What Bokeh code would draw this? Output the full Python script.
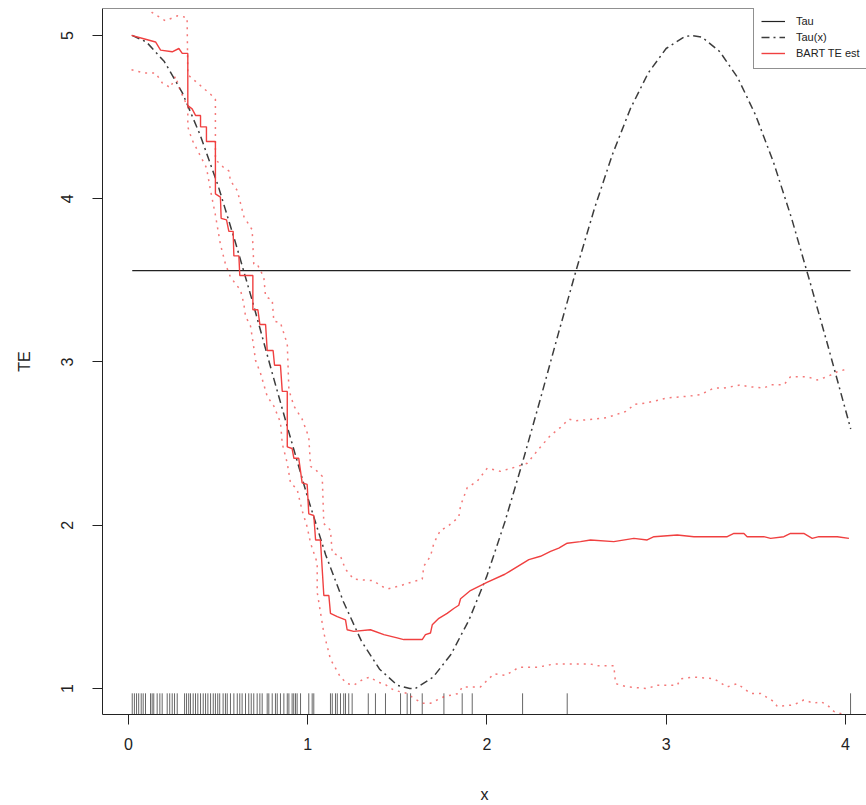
from bokeh.plotting import figure
from bokeh.models import Range1d, Span, Legend, LegendItem, FixedTicker
from bokeh.embed import file_html
from bokeh.resources import INLINE

# ---------------- data ----------------
tau_value = 3.56

taux_x = [0.02, 0.1, 0.2, 0.3, 0.4, 0.5, 0.6, 0.7, 0.8, 0.9, 1.0, 1.1, 1.2, 1.3, 1.4, 1.5,
          1.57, 1.6, 1.7, 1.8, 1.9, 2.0, 2.1, 2.2, 2.3, 2.4, 2.5, 2.6, 2.7, 2.8, 2.9, 3.0,
          3.1, 3.14, 3.2, 3.3, 3.4, 3.5, 3.6, 3.7, 3.8, 3.9, 4.0, 4.03]
taux_y = [5.00, 4.96, 4.84, 4.65, 4.39, 4.08, 3.72, 3.34, 2.94, 2.55, 2.17, 1.82, 1.53, 1.29, 1.12, 1.02,
          1.00, 1.00, 1.07, 1.21, 1.42, 1.69, 2.02, 2.39, 2.78, 3.18, 3.57, 3.94, 4.27, 4.55, 4.77, 4.92,
          4.99, 5.00, 4.99, 4.90, 4.74, 4.51, 4.22, 3.88, 3.50, 3.11, 2.71, 2.59]

bart_x = [0.017, 0.085, 0.151, 0.179, 0.244, 0.281, 0.300, 0.331, 0.331, 0.355, 0.374, 0.402, 0.402,
          0.435, 0.435, 0.485, 0.485, 0.513, 0.517, 0.547, 0.560, 0.584, 0.588, 0.616, 0.621, 0.694,
          0.694, 0.722, 0.733, 0.765, 0.774, 0.807, 0.815, 0.848, 0.858, 0.886, 0.886, 0.913, 0.923,
          0.950, 0.969, 0.997, 1.006, 1.034, 1.044, 1.071, 1.090, 1.118, 1.127, 1.165, 1.211, 1.220,
          1.257, 1.350, 1.425, 1.499, 1.536, 1.639, 1.657, 1.685, 1.695, 1.732, 1.778, 1.815, 1.843,
          1.853, 1.908, 2.000, 2.100, 2.234, 2.299, 2.355, 2.401, 2.448, 2.522, 2.578, 2.708, 2.820,
          2.894, 2.932, 3.062, 3.155, 3.341, 3.378, 3.434, 3.452, 3.545, 3.583, 3.657, 3.694, 3.768,
          3.815, 3.852, 3.955, 4.020]
bart_y = [5.00, 4.98, 4.96, 4.91, 4.90, 4.92, 4.89, 4.89, 4.57, 4.55, 4.51, 4.51, 4.44,
          4.44, 4.35, 4.35, 4.03, 4.01, 3.88, 3.87, 3.80, 3.80, 3.65, 3.65, 3.53, 3.53,
          3.32, 3.32, 3.23, 3.23, 3.07, 3.07, 2.98, 2.98, 2.82, 2.82, 2.48, 2.47, 2.41,
          2.41, 2.26, 2.25, 2.07, 2.06, 1.91, 1.91, 1.57, 1.57, 1.46, 1.44, 1.42, 1.36,
          1.35, 1.36, 1.33, 1.31, 1.30, 1.30, 1.33, 1.34, 1.39, 1.43, 1.46, 1.49, 1.51,
          1.55, 1.60, 1.65, 1.70, 1.79, 1.81, 1.84, 1.86, 1.89, 1.90, 1.91, 1.90, 1.92,
          1.91, 1.93, 1.94, 1.93, 1.93, 1.95, 1.95, 1.93, 1.93, 1.92, 1.93, 1.95, 1.95,
          1.92, 1.93, 1.93, 1.92]

upper_x = [0.017, 0.120, 0.132, 0.206, 0.272, 0.327, 0.331, 0.383, 0.458, 0.485, 0.485, 0.532, 0.560,
           0.569, 0.607, 0.644, 0.690, 0.699, 0.718, 0.755, 0.765, 0.802, 0.811, 0.848, 0.886, 0.895,
           0.923, 0.969, 1.006, 1.016, 1.044, 1.081, 1.090, 1.127, 1.137, 1.183, 1.211, 1.257, 1.369,
           1.406, 1.444, 1.518, 1.574, 1.639, 1.648, 1.685, 1.704, 1.741, 1.778, 1.843, 1.853, 1.890,
           1.946, 2.002, 2.076, 2.169, 2.225, 2.299, 2.355, 2.411, 2.457, 2.494, 2.597, 2.671, 2.727,
           2.783, 2.820, 2.894, 3.006, 3.118, 3.192, 3.266, 3.322, 3.415, 3.452, 3.545, 3.583, 3.657,
           3.694, 3.787, 3.843, 3.899, 3.955, 4.020]
upper_y = [5.22, 5.20, 5.14, 5.09, 5.12, 5.11, 4.76, 4.71, 4.64, 4.61, 4.24, 4.19, 4.17,
           4.11, 4.05, 3.89, 3.81, 3.60, 3.60, 3.52, 3.40, 3.38, 3.25, 3.24, 3.11, 2.83,
           2.73, 2.65, 2.54, 2.36, 2.34, 2.30, 2.01, 1.97, 1.83, 1.81, 1.73, 1.67, 1.66,
           1.63, 1.61, 1.63, 1.65, 1.67, 1.75, 1.81, 1.89, 1.97, 1.99, 2.05, 2.12, 2.23,
           2.27, 2.35, 2.33, 2.36, 2.38, 2.48, 2.55, 2.60, 2.65, 2.64, 2.65, 2.66, 2.68,
           2.70, 2.74, 2.75, 2.78, 2.79, 2.80, 2.84, 2.84, 2.86, 2.85, 2.84, 2.86, 2.86,
           2.91, 2.91, 2.89, 2.91, 2.94, 2.96]

lower_x = [0.017, 0.085, 0.151, 0.188, 0.234, 0.262, 0.290, 0.331, 0.331, 0.355, 0.402, 0.435, 0.458,
           0.485, 0.513, 0.541, 0.569, 0.625, 0.643, 0.653, 0.681, 0.699, 0.709, 0.737, 0.774, 0.811,
           0.848, 0.858, 0.886, 0.904, 0.941, 0.969, 0.997, 1.016, 1.053, 1.053, 1.090, 1.127, 1.183,
           1.220, 1.257, 1.313, 1.350, 1.388, 1.425, 1.481, 1.555, 1.592, 1.639, 1.685, 1.760, 1.843,
           1.862, 1.964, 2.039, 2.104, 2.178, 2.281, 2.373, 2.578, 2.615, 2.708, 2.718, 2.783, 2.894,
           2.950, 3.062, 3.080, 3.155, 3.266, 3.341, 3.397, 3.471, 3.527, 3.601, 3.620, 3.713, 3.768,
           3.824, 3.862, 3.899, 3.936, 3.992, 4.020]
lower_y = [4.79, 4.77, 4.77, 4.71, 4.68, 4.75, 4.66, 4.56, 4.44, 4.36, 4.26, 4.19, 4.05,
           3.90, 3.72, 3.60, 3.52, 3.44, 3.36, 3.28, 3.22, 3.09, 3.01, 2.93, 2.79, 2.73,
           2.63, 2.50, 2.38, 2.26, 2.22, 2.09, 1.99, 1.89, 1.77, 1.59, 1.34, 1.18, 1.07,
           1.03, 1.02, 1.06, 1.07, 1.04, 1.03, 0.99, 0.97, 0.94, 0.91, 0.91, 0.95, 0.97,
           1.01, 1.01, 1.09, 1.08, 1.13, 1.13, 1.15, 1.15, 1.14, 1.14, 1.03, 1.01, 1.00,
           1.02, 1.02, 1.06, 1.07, 1.06, 1.01, 1.03, 0.97, 0.97, 0.92, 0.89, 0.90, 0.93,
           0.91, 0.92, 0.90, 0.86, 0.84, 0.82]

rug_x = [0.021, 0.033, 0.045, 0.057, 0.071, 0.082, 0.095, 0.123, 0.132, 0.141, 0.160, 0.175, 0.188,
         0.216, 0.230, 0.244, 0.257, 0.272, 0.313, 0.324, 0.336, 0.346, 0.361, 0.374, 0.387, 0.402,
         0.417, 0.430, 0.443, 0.458, 0.473, 0.485, 0.498, 0.509, 0.528, 0.541, 0.551, 0.569, 0.588,
         0.607, 0.621, 0.634, 0.653, 0.671, 0.685, 0.699, 0.718, 0.733, 0.746, 0.774, 0.783, 0.802,
         0.820, 0.830, 0.848, 0.867, 0.886, 0.895, 0.913, 0.922, 0.932, 0.941, 0.960, 1.006, 1.025,
         1.034, 1.127, 1.137, 1.155, 1.165, 1.183, 1.201, 1.211, 1.229, 1.248, 1.338, 1.378, 1.434,
         1.518, 1.555, 1.574, 1.639, 1.760, 1.862, 1.918, 2.199, 2.448, 4.029]

x_ticks = [0, 1, 2, 3, 4]
y_ticks = [1, 2, 3, 4, 5]
legend_labels = ["Tau", "Tau(x)", "BART TE est"]

# ---------------- figure ----------------
XR = (-0.145, 4.118)
YR = (0.841, 5.165)
FONT = "Liberation Sans"
INK = "#222222"
RED = "#F04040"

p = figure(width=866, height=805, output_backend="svg", toolbar_location=None,
           x_range=Range1d(*XR), y_range=Range1d(*YR),
           min_border_left=102, min_border_right=0, min_border_top=8, min_border_bottom=90,
           x_axis_label="x", y_axis_label="TE")
p.xgrid.visible = False
p.ygrid.visible = False
p.outline_line_color = None

p.xaxis.ticker = FixedTicker(ticks=x_ticks)
p.yaxis.ticker = FixedTicker(ticks=y_ticks)
for ax in (p.xaxis[0], p.yaxis[0]):
    ax.axis_line_color = INK
    ax.axis_line_width = 1
    ax.major_tick_line_color = INK
    ax.major_tick_out = 10
    ax.major_tick_in = 0
    ax.minor_tick_line_color = None
    ax.major_label_text_font = FONT
    ax.major_label_text_font_size = "16px"
    ax.major_label_text_color = INK
    ax.axis_label_text_font = FONT
    ax.axis_label_text_font_size = "16px"
    ax.axis_label_text_font_style = "normal"
    ax.axis_label_text_color = INK
p.yaxis.major_label_orientation = "vertical"
p.xaxis.major_label_standoff = 13
p.xaxis.axis_label_standoff = 33
p.yaxis.major_label_standoff = 19
p.yaxis.axis_label_standoff = 26

# top edge of box
p.add_layout(Span(location=YR[1], dimension="width", line_color=INK, line_width=1))

# rug
rug_len = 0.03 * (YR[1] - YR[0])
p.segment(x0=rug_x, y0=[YR[0]] * len(rug_x), x1=rug_x, y1=[YR[0] + rug_len] * len(rug_x),
          line_color="black", line_alpha=0.6, line_width=1)

r_tau = p.line([min(rug_x), max(rug_x)], [tau_value, tau_value], line_color=INK, line_width=1.2)
r_taux = p.line(taux_x, taux_y, line_color="#3c3c3c", line_width=1.5, line_dash="8 4 2 4")
r_up = p.line(upper_x, upper_y, line_color=RED, line_alpha=0.7, line_width=1.5, line_dash="2 5")
r_lo = p.line(lower_x, lower_y, line_color=RED, line_alpha=0.7, line_width=1.5, line_dash="2 5")
r_bart = p.line(bart_x, bart_y, line_color=RED, line_width=1.4)

legend = Legend(items=[LegendItem(label=legend_labels[0], renderers=[r_tau]),
                       LegendItem(label=legend_labels[1], renderers=[r_taux]),
                       LegendItem(label=legend_labels[2], renderers=[r_bart])],
                location=(651, 645), orientation="vertical",
                label_text_font=FONT, label_text_font_size="11px", label_text_color=INK,
                glyph_width=24, glyph_height=16, label_height=16, label_standoff=11,
                padding=7, spacing=0, margin=0,
                border_line_color=INK, border_line_width=1, background_fill_color="white",
                background_fill_alpha=1.0)
p.add_layout(legend)

open("out.html", "w").write(file_html(p, INLINE))
